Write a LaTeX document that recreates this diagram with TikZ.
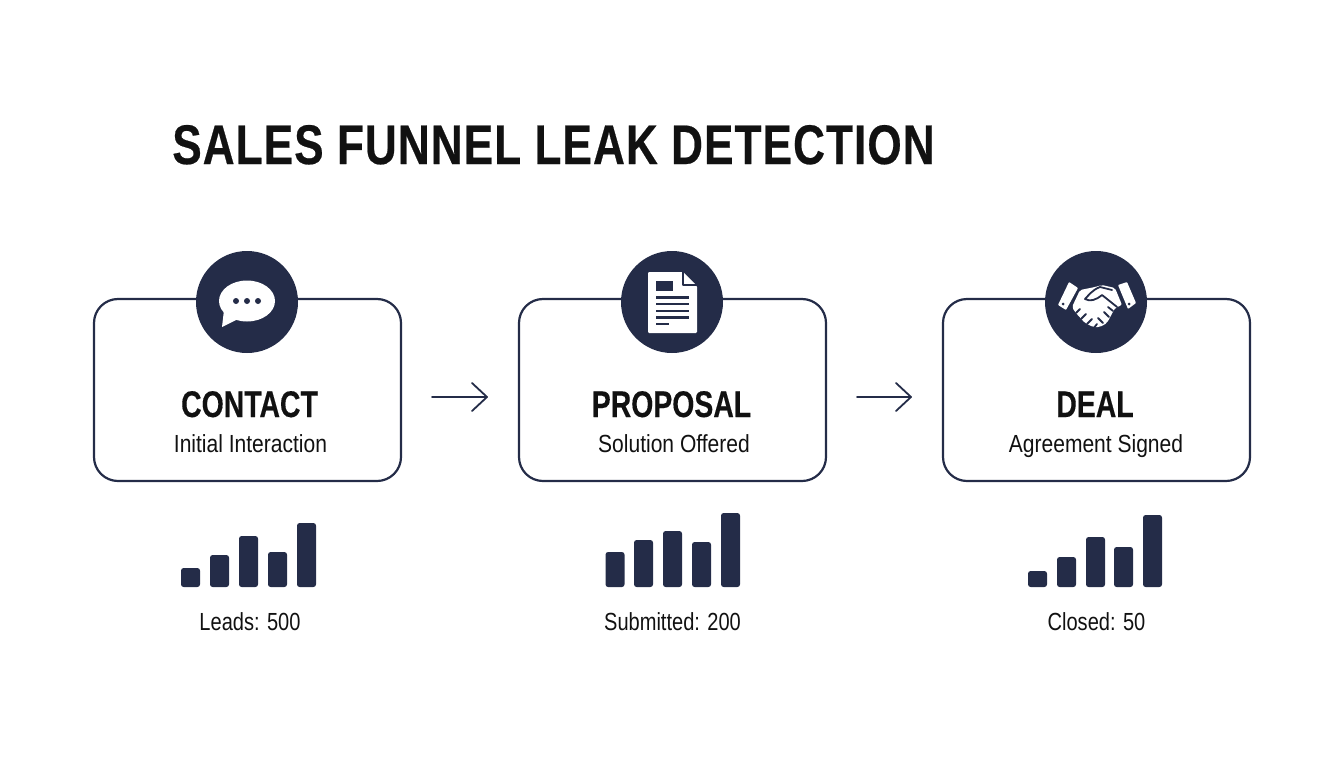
\documentclass[tikz,border=0pt]{standalone}
\usepackage{fontspec}
\usetikzlibrary{arrows.meta}
\setmainfont{Liberation Sans}
\newfontfamily\titlefont[FakeStretch=0.79,LetterSpace=1.95,FakeBold=0.4]{Liberation Sans}
\newfontfamily\headfont[FakeStretch=0.765,FakeBold=0.3]{Liberation Sans}
\newfontfamily\subfont[FakeStretch=0.85]{Liberation Sans}
\newfontfamily\countfont[FakeStretch=0.81]{Liberation Sans}
\definecolor{navy}{HTML}{242C48}
\definecolor{ink}{HTML}{111111}
\tikzset{
	stagebox/.style={draw=navy, line width=0.55mm, rounded corners=6mm, minimum width=76.75mm, minimum height=45.5mm, inner sep=0pt},
	badge/.style={circle, fill=navy, minimum size=25.5mm, inner sep=0pt},
	flow/.style={draw=navy, line width=0.45mm, line cap=round, line join=round, -{Straight Barb[length=3.75mm, width=7mm, line width=0.45mm, round]}},
	headtext/.style={text=ink, inner sep=0pt, anchor=base, font=\headfont\bfseries\fontsize{26.4}{28}\selectfont},
	subtext/.style={text=ink, inner sep=0pt, anchor=base, font=\subfont\fontsize{17.6}{20}\selectfont},
	counttext/.style={text=ink, inner sep=0pt, anchor=base, font=\countfont\fontsize{17.6}{20}\selectfont},
	barshape/.style={fill=navy, rounded corners=0.65mm},
	iconline/.style={navy, line width=0.6mm, line cap=butt},
	handline/.style={navy, line width=0.45mm},
}
\begin{document}
\begin{tikzpicture}[x=0.25mm, y=-0.25mm, line join=round, line cap=round]
	\useasboundingbox (0,0) rectangle (1344,768);
	\node[text=ink, inner sep=0pt, anchor=base west, font=\titlefont\bfseries\fontsize{39.7}{42}\selectfont] (title) at (172,164) {SALES FUNNEL LEAK DETECTION};
	% stage boxes and icon discs
	\foreach \name/\cx/\dx in {contact/247.5/247, proposal/672.5/672, deal/1096.5/1096} {
		\node[stagebox] (\name) at (\cx,390) {};
		\node[badge] (\name-badge) at (\dx,302) {};
	}
	% arrows
	\foreach \from/\to in {contact/proposal, proposal/deal}
		\draw[flow, shorten <=7.5mm, shorten >=7.5mm] ([yshift=-1.75mm]\from.east) -- ([yshift=-1.75mm]\to.west);
	% texts
	\node[headtext] (contact-head) at (249.5,417) {CONTACT};
	\node[headtext] (proposal-head) at (671.5,417) {PROPOSAL};
	\node[headtext] (deal-head) at (1095,417) {DEAL};
	\node[subtext] (contact-sub) at (250.5,452) {Initial Interaction};
	\node[subtext] (proposal-sub) at (674,452) {Solution Offered};
	\node[subtext] (deal-sub) at (1096,452) {Agreement Signed};
	\node[counttext] (contact-count) at (250,630) {Leads: 500};
	\node[counttext] (proposal-count) at (672.5,630) {Submitted: 200};
	\node[counttext] (deal-count) at (1096.5,630) {Closed: 50};
	% bars
	\foreach \x/\t in {181/568,210/555,239/536,268/552,297/523,
		605.5/552,634/540,663/531,692/542,721/513,
		1028/571,1057/557,1086/537,1114/547,1143/515}
		\fill[barshape] (\x,587) rectangle (\x+19,\t);
	% chat icon
	\fill[white] (247,301) ellipse [x radius=28, y radius=20.5];
	\fill[white] (224,310)--(222,327)--(238,319)--cycle;
	\foreach \x in {236,247,258}\fill[navy] (\x,301) circle (3);
	% document icon
	\fill[white, rounded corners=0.3mm] (648,272)--(683,272)--(697,286)--(697,333)--(648,333)--cycle;
	\draw[navy, line width=0.35mm, line cap=butt] (683,272)--(683,285)--(697,285);
	\fill[navy] (656,281) rectangle (673,291);
	\foreach \y in {297.3,304,310.7,317.3}\draw[iconline] (656,\y)--(689,\y);
	\draw[iconline] (656,324)--(669,324);
	% handshake icon
	\fill[white, rounded corners=0.2mm] (1069,282)--(1078,288)--(1066,310)--(1058,305)--cycle;
	\fill[white, rounded corners=0.2mm] (1118,285)--(1127,282)--(1136,303)--(1128,309)--cycle;
	\fill[navy] (1063,304) circle (1.5);
	\fill[navy] (1129,304) circle (1.5);
	\fill[white, rounded corners=0.5mm] (1080,290)--(1095,287)--(1102,285)--(1115,288)--(1122,305)--(1115,308)--(1107,323)--(1100,327)--(1093,327)--(1085,323)--(1075,312)--(1072,307)--cycle;
	\draw[handline] (1112,290)--(1100,287) .. controls (1092,290) and (1088,296) .. (1085,299) .. controls (1090,302) and (1096,300) .. (1102,295)--(1117,307);
	\foreach \a/\b/\c/\d in {1076/313/1080/309, 1081/319/1086/314, 1087/324/1092/319, 1093/329/1097/324, 1103/323/1098/318, 1109/317/1104/312, 1113/311/1108/307}
		\draw[handline] (\a,\b)--(\c,\d);
\end{tikzpicture}
\end{document}
